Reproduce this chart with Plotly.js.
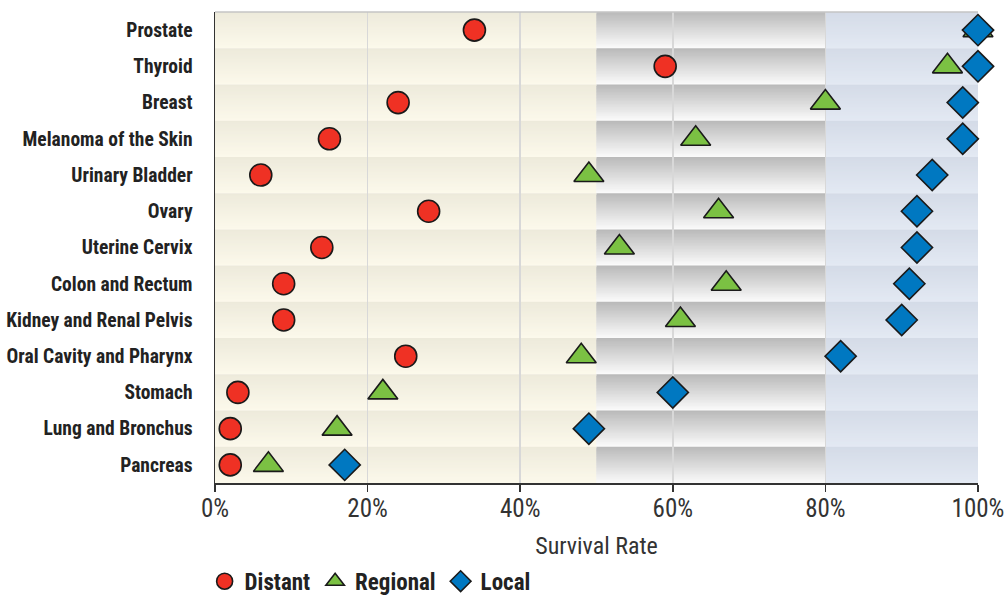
<!DOCTYPE html>
<html>
<head>
<meta charset="utf-8">
<script src="https://cdn.plot.ly/plotly-3.0.1.min.js"></script>
<style>html,body{margin:0;padding:0;background:#fff}#chart{width:1008px;height:598px}</style>
</head>
<body>
<div id="chart"></div>
<script>
const categories = ["Prostate","Thyroid","Breast","Melanoma of the Skin","Urinary Bladder","Ovary","Uterine Cervix","Colon and Rectum","Kidney and Renal Pelvis","Oral Cavity and Pharynx","Stomach","Lung and Bronchus","Pancreas"];
const distant  = [34, 59, 24, 15, 6, 28, 14, 9, 9, 25, 3, 2, 2];
const regional = [100, 96, 80, 63, 49, 66, 53, 67, 61, 48, 22, 16, 7];
const local    = [100, 100, 98, 98, 94, 92, 92, 91, 90, 82, 60, 49, 17];
const xTickVals = [0, 20, 40, 60, 80, 100];
const xTickText = ["0%", "20%", "40%", "60%", "80%", "100%"];
const bands = [
  {from: 0, to: 50, top: [237,234,219], bottom: [252,249,235]},
  {from: 50, to: 80, top: [185,185,185], bottom: [251,251,251]},
  {from: 80, to: 100, top: [212,219,231], bottom: [227,233,243]}
];

const FONT = '"Roboto Condensed","Liberation Sans Narrow","Arial Narrow",Roboto,sans-serif';

function mix(a, b, t) {
  return 'rgb(' + a.map((v, i) => Math.round(v + (b[i] - v) * t)).join(',') + ')';
}

const shapes = [];
const STEPS = 24;
categories.forEach((c, i) => {
  bands.forEach(b => {
    for (let k = 0; k < STEPS; k++) {
      const y0 = i - 0.5 + k / STEPS;
      const y1 = (k < STEPS - 1) ? i - 0.5 + (k + 2) / STEPS : i + 0.5;
      shapes.push({
        type: 'rect', layer: 'below', xref: 'x', yref: 'y',
        x0: b.from, x1: b.to, y0: y0, y1: y1,
        fillcolor: mix(b.top, b.bottom, (k + 0.5) / STEPS),
        line: {width: 0}
      });
    }
  });
});
// top border
shapes.push({type: 'line', layer: 'above', xref: 'paper', yref: 'paper', x0: 0, x1: 1, y0: 1, y1: 1, line: {color: '#c4c4c4', width: 1.5}});

const mk = (color, symbol, size) => ({color: color, symbol: symbol, size: size, line: {color: '#1a1a1a', width: 1.6}});

const traces = [
  {name: 'Distant', type: 'scatter', mode: 'markers', x: distant, y: categories, marker: mk('#ef3124', 'circle', 22), cliponaxis: false},
  {name: 'Regional', type: 'scatter', mode: 'markers', x: regional, y: categories, marker: mk('#7bc143', 'triangle-up', 26), cliponaxis: false},
  {name: 'Local', type: 'scatter', mode: 'markers', x: local, y: categories, marker: mk('#0078c1', 'diamond', 24), cliponaxis: false}
];

const layout = {
  width: 1008, height: 598,
  margin: {l: 215, r: 30, t: 12, b: 115, autoexpand: false},
  paper_bgcolor: '#ffffff',
  plot_bgcolor: '#ffffff',
  showlegend: true,
  legend: {orientation: 'h', x: 0.203, xref: 'container', xanchor: 'left', y: 0.028, yref: 'container', yanchor: 'middle',
           font: {family: FONT, size: 23, color: '#222', weight: 'bold'}, itemwidth: 30, tracegroupgap: 0},
  xaxis: {
    range: [0, 100], tickvals: xTickVals, ticktext: xTickText,
    showgrid: true, gridcolor: '#d8d8d8', gridwidth: 1.5, zeroline: false,
    showline: true, linecolor: '#333', linewidth: 1.5,
    ticks: 'outside', ticklen: 7, tickcolor: '#333', tickwidth: 1.5,
    ticklabelstandoff: -5,
    tickfont: {family: FONT, size: 25, color: '#333'},
    title: {text: 'Survival Rate', font: {family: FONT, size: 24, color: '#333'}, standoff: 16},
    fixedrange: true
  },
  yaxis: {
    type: 'category', categoryorder: 'array', categoryarray: categories,
    range: [categories.length - 0.5, -0.5],
    showgrid: false, zeroline: false,
    showline: true, linecolor: '#333', linewidth: 1.5,
    ticks: '', ticklabelstandoff: 17,
    tickfont: {family: FONT, size: 19.5, color: '#222', weight: 'bold'},
    fixedrange: true
  },
  shapes: shapes
};

Plotly.newPlot('chart', traces, layout, {displayModeBar: false, staticPlot: true});
</script>
</body>
</html>
